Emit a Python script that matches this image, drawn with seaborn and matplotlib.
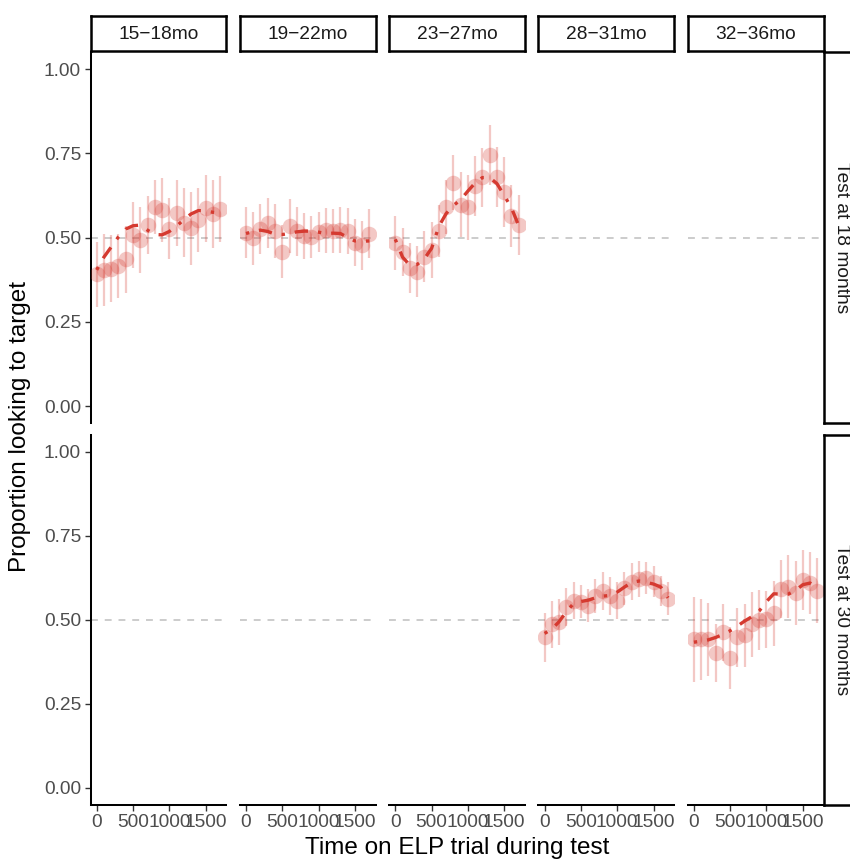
import numpy as np
import pandas as pd
import matplotlib
matplotlib.use("Agg")
import matplotlib.pyplot as plt
import seaborn as sns

# ---- data -------------------------------------------------------------
time_ms = [0, 100, 200, 300, 400, 500, 600, 700, 800, 900,
           1000, 1100, 1200, 1300, 1400, 1500, 1600, 1700]

age_groups = ["15−18mo", "19−22mo", "23−27mo", "28−31mo", "32−36mo"]
test_rows = ["Test at 18 months", "Test at 30 months"]

# proportion looking to target (bin means), CI half-widths and smooth fit
prop_15_18 = [0.391, 0.404, 0.408, 0.416, 0.435, 0.507, 0.493, 0.537, 0.591,
              0.582, 0.526, 0.572, 0.544, 0.528, 0.552, 0.587, 0.570, 0.585]
ci_15_18 = [0.097, 0.106, 0.100, 0.096, 0.099, 0.098, 0.097, 0.085, 0.081,
            0.096, 0.090, 0.098, 0.103, 0.108, 0.094, 0.100, 0.100, 0.099]
fit_15_18 = [0.404, 0.442, 0.472, 0.502, 0.525, 0.535, 0.537, 0.522, 0.509,
             0.508, 0.518, 0.534, 0.553, 0.570, 0.580, 0.579, 0.575, 0.572]

prop_19_22 = [0.514, 0.498, 0.525, 0.542, 0.519, 0.458, 0.534, 0.519, 0.505,
              0.502, 0.517, 0.522, 0.520, 0.522, 0.520, 0.485, 0.477, 0.512]
ci_19_22 = [0.076, 0.079, 0.075, 0.074, 0.080, 0.078, 0.080, 0.073, 0.068,
            0.062, 0.059, 0.067, 0.066, 0.069, 0.068, 0.069, 0.072, 0.072]
fit_19_22 = [0.512, 0.518, 0.522, 0.518, 0.510, 0.509, 0.512, 0.517, 0.519,
             0.519, 0.516, 0.512, 0.513, 0.512, 0.500, 0.490, 0.489, 0.490]

prop_23_27 = [0.485, 0.458, 0.409, 0.399, 0.443, 0.463, 0.520, 0.591, 0.663,
              0.598, 0.590, 0.653, 0.679, 0.745, 0.681, 0.636, 0.564, 0.537]
ci_23_27 = [0.080, 0.071, 0.074, 0.075, 0.076, 0.084, 0.078, 0.081, 0.082,
            0.097, 0.096, 0.089, 0.087, 0.089, 0.089, 0.104, 0.092, 0.088]
fit_23_27 = [0.495, 0.442, 0.418, 0.420, 0.437, 0.468, 0.533, 0.571, 0.595,
             0.612, 0.638, 0.662, 0.678, 0.678, 0.660, 0.625, 0.588, 0.535]

prop_28_31 = [0.448, 0.487, 0.495, 0.538, 0.557, 0.555, 0.543, 0.571, 0.586,
              0.571, 0.557, 0.594, 0.614, 0.622, 0.624, 0.614, 0.587, 0.563]
ci_28_31 = [0.072, 0.069, 0.068, 0.057, 0.055, 0.050, 0.048, 0.051, 0.056,
            0.057, 0.055, 0.050, 0.055, 0.055, 0.048, 0.046, 0.044, 0.049]
fit_28_31 = [0.460, 0.473, 0.495, 0.525, 0.549, 0.555, 0.559, 0.566, 0.571,
             0.573, 0.583, 0.598, 0.612, 0.616, 0.612, 0.607, 0.598, 0.566]

prop_32_36 = [0.442, 0.442, 0.442, 0.401, 0.463, 0.388, 0.448, 0.455, 0.487,
              0.500, 0.502, 0.520, 0.592, 0.599, 0.581, 0.619, 0.611, 0.587]
ci_32_36 = [0.126, 0.121, 0.109, 0.087, 0.086, 0.092, 0.087, 0.094, 0.096,
            0.089, 0.085, 0.096, 0.086, 0.093, 0.096, 0.090, 0.092, 0.097]
fit_32_36 = [0.434, 0.437, 0.441, 0.448, 0.457, 0.468, 0.482, 0.497, 0.510,
             0.527, 0.555, 0.578, 0.577, 0.577, 0.588, 0.605, 0.610, 0.596]

series = {
    ("Test at 18 months", "15−18mo"): (prop_15_18, ci_15_18, fit_15_18),
    ("Test at 18 months", "19−22mo"): (prop_19_22, ci_19_22, fit_19_22),
    ("Test at 18 months", "23−27mo"): (prop_23_27, ci_23_27, fit_23_27),
    ("Test at 30 months", "28−31mo"): (prop_28_31, ci_28_31, fit_28_31),
    ("Test at 30 months", "32−36mo"): (prop_32_36, ci_32_36, fit_32_36),
}

frames = []
for (test, age), (p, c, f) in series.items():
    frames.append(pd.DataFrame({"test": test, "age": age, "time": time_ms,
                                "prop": p, "ci": c, "fit": f}))
df = pd.concat(frames, ignore_index=True)
df["lo"] = df["prop"] - df["ci"]
df["hi"] = df["prop"] + df["ci"]

# ---- styling ----------------------------------------------------------
sns.set_theme(style="white")
plt.rcParams["font.family"] = ["Liberation Sans", "DejaVu Sans"]

W, H = 850, 861
fig = plt.figure(figsize=(W / 100, H / 100), dpi=100)

MARK = "#D53A30"
TICK_FS = 13.8
TITLE_FS = 17.5

col_w, col_gap = 135.8, 13.5
col_left = [90.5 + i * (col_w + col_gap) for i in range(5)]
row_box = [(52.2, 422.9), (435.2, 804.8)]


def px_axes(left, top, right, bottom, **kw):
    return fig.add_axes([left / W, 1 - bottom / H, (right - left) / W,
                         (bottom - top) / H], **kw)


for r, test in enumerate(test_rows):
    top, bot = row_box[r]
    for c, age in enumerate(age_groups):
        left = col_left[c]
        ax = px_axes(left, top, left + col_w, bot)
        ax.set_facecolor("white")
        ax.axhline(0.5, color="#BEBEBE", lw=1.1, ls=(0, (4.5, 4.5)), zorder=1)

        sub = df[(df["test"] == test) & (df["age"] == age)]
        if len(sub):
            ax.vlines(sub["time"], sub["lo"], sub["hi"], color=MARK,
                      alpha=0.28, lw=1.6, zorder=2)
            sns.scatterplot(data=sub, x="time", y="prop", ax=ax, s=125,
                            color=MARK, alpha=0.28, linewidth=0, zorder=3,
                            legend=False)
            sns.lineplot(data=sub, x="time", y="fit", ax=ax, color=MARK,
                         lw=2.4, ls=(0, (1, 3, 4, 3)), errorbar=None,
                         zorder=4, legend=False)

        ax.set_xlim(-85, 1785)
        ax.set_ylim(-0.05, 1.05)
        ax.set_xlabel("")
        ax.set_ylabel("")
        for s in ax.spines.values():
            s.set_visible(False)

        ax.set_xticks([0, 500, 1000, 1500])
        ax.set_yticks([0, 0.25, 0.5, 0.75, 1.0])
        ax.tick_params(colors="#333333", length=4.3, width=1.0,
                       labelcolor="#4D4D4D", labelsize=TICK_FS, pad=2.5)
        if c == 0:
            ax.spines["left"].set_visible(True)
            ax.spines["left"].set_color("black")
            ax.spines["left"].set_linewidth(1.45)
            ax.set_yticklabels(["0.00", "0.25", "0.50", "0.75", "1.00"])
            ax.tick_params(axis="y", left=True)
        else:
            ax.tick_params(axis="y", left=False, labelleft=False)
        if r == 1:
            ax.spines["bottom"].set_visible(True)
            ax.spines["bottom"].set_color("black")
            ax.spines["bottom"].set_linewidth(1.45)
            ax.set_xticklabels(["0", "500", "1000", "1500"])
            ax.tick_params(axis="x", bottom=True)
        else:
            ax.tick_params(axis="x", bottom=False, labelbottom=False)

        # column strip
        if r == 0:
            sax = px_axes(left, 15.5, left + col_w, 51.0)
            sax.set_xticks([])
            sax.set_yticks([])
            sax.set_facecolor("white")
            for s in sax.spines.values():
                s.set_color("black")
                s.set_linewidth(1.8)
            sax.text(0.5, 0.47, age, ha="center", va="center",
                     fontsize=TICK_FS, color="#1A1A1A",
                     transform=sax.transAxes)

    # row strip
    rax = px_axes(824.3, top, 880, bot)
    rax.set_xticks([])
    rax.set_yticks([])
    rax.set_facecolor("white")
    for s in rax.spines.values():
        s.set_color("black")
        s.set_linewidth(1.8)
    rax.text((841.5 - 824.3) / (880 - 824.3), 0.5, test, rotation=-90,
             ha="center", va="center", fontsize=TICK_FS, color="#1A1A1A",
             transform=rax.transAxes)

fig.text(457 / W, 1 - 848 / H, "Time on ELP trial during test",
         ha="center", va="center", fontsize=TITLE_FS, color="black")
fig.text(20.5 / W, 1 - 426 / H, "Proportion looking to target",
         ha="center", va="center", rotation=90, fontsize=TITLE_FS,
         color="black")

fig.savefig("out.png", dpi=100, facecolor="white")
